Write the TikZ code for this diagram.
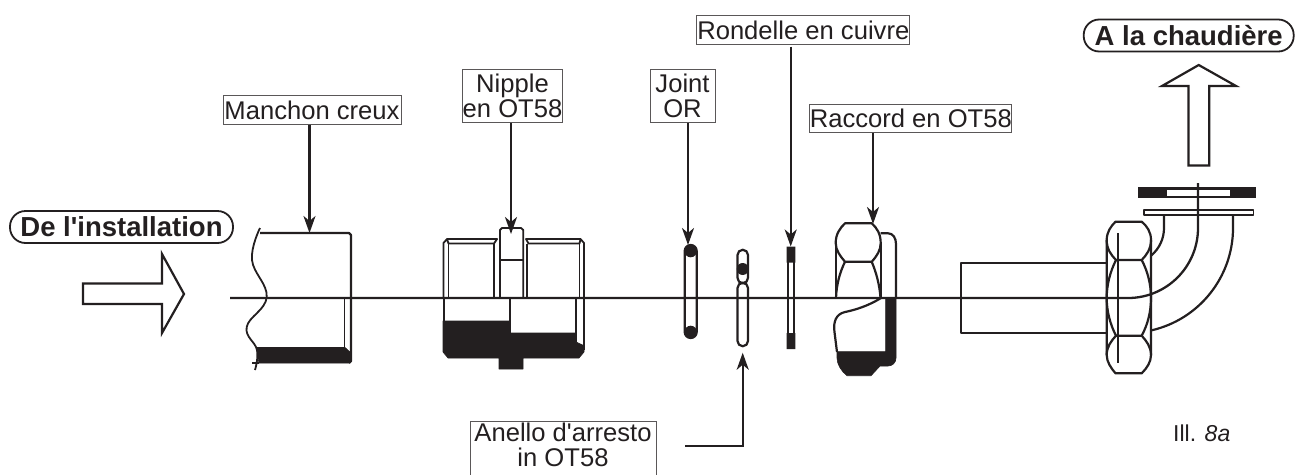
\documentclass[tikz,border=0pt]{standalone}
\usepackage{fontspec}
\newfontfamily\lab{Liberation Sans}
\usetikzlibrary{arrows.meta}
\definecolor{ink}{HTML}{231F20}
\tikzset{
  part/.style={draw=ink,line width=2.2pt,line join=round},
  thin part/.style={draw=ink,line width=1.8pt,line join=round},
  solid part/.style={fill=ink,draw=ink,line width=.6pt,line join=round},
  axis/.style={draw=ink,line width=2.3pt},
  lead/.style={draw=ink,line width=2.3pt,-{Stealth[length=17pt,width=12pt,inset=5pt]}},
  label box/.style={draw=ink!75,line width=1pt,fill=white,inner sep=0pt,align=center,text=ink,
    font=\lab\fontsize{25.6}{25}\selectfont},
  pill/.style={draw=ink,line width=1.8pt,rounded corners=15.5pt,inner sep=0pt,text=ink,
    font=\lab\fontsize{27.5}{28}\selectfont\bfseries},
  big arrow/.style={draw=ink,line width=2.2pt,line join=miter,fill=white}
}
\begin{document}
\begin{tikzpicture}[x=1pt,y=-1pt]
\useasboundingbox (0,0) rectangle (1295,474);
% flow arrows
\draw[big arrow] (83,283.5) -- (162,283.5) -- (162,254) -- (184,294) -- (162,333) -- (162,304) -- (83,304) -- cycle;
\draw[big arrow] (1188.5,165.5) -- (1188.5,86) -- (1162,86) -- (1198.7,65) -- (1236,86) -- (1209.3,86) -- (1209.3,165.5) -- cycle;
% pills
\node[pill,minimum width=223pt,minimum height=32pt] (from) at (121.5,227) {De l'installation};
\node[pill,minimum width=210pt,minimum height=32pt] (to) at (1188.7,35.5) {A la chaudière};
% manchon
\draw[part] (260,233) -- (349,233) -- (351,235) -- (351,361) -- (349,363);
\draw[thin part] plot[smooth,tension=.7] coordinates {(260,228) (252,260) (266.7,297) (246.7,327) (257,350) (255,370)};
\draw[solid part] (257,347.5) -- (345,347.5) -- (351,353) -- (351,361) -- (349,363) -- (259,363) -- (257.5,355) -- cycle;
\draw[thin part] (344.5,298) -- (344.5,347.5);
\draw[thin part] (252,363) -- (259,363);
% nipple
\draw[thin part] (443.5,298) -- (443.5,243) -- (447,239) -- (497,239) -- (494,243.5) -- (448.5,243.5) -- (447,239);
\draw[thin part] (448.5,243.5) -- (448.5,298);
\draw[thin part] (494,243.5) -- (494,298);
\draw[thin part] (500,298) -- (500,230) -- (502,228) -- (521,228) -- (523.3,230) -- (523.3,298);
\draw[thin part] (500,260) -- (523.3,260);
\draw[thin part] (584,298) -- (584,243) -- (580.5,239) -- (526,239) -- (528.5,243.5) -- (579.5,243.5) -- (580.5,239);
\draw[thin part] (527,243.5) -- (527,298);
\draw[thin part] (579.5,243.5) -- (579.5,298);
\draw[thin part] (444,298) -- (444,321);
\draw[thin part] (510,298) -- (510,322);
\draw[thin part] (576,298) -- (576,342);
\draw[thin part] (584,298) -- (584,350);
\draw[solid part] (443,321) -- (510.5,321) -- (510.5,333) -- (576,333) -- (576,342) -- (582.5,345) -- (584,345) -- (584,352) -- (579,358) -- (523,358) -- (523,369) -- (499,369) -- (499,358) -- (448,358) -- (443,352) -- cycle;
% joint OR
\draw[part] (684.7,251) -- (684.7,332) arc[start angle=180,end angle=0,radius=6] -- (696.7,251) arc[start angle=0,end angle=-180,radius=6];
\fill[ink] (690.7,251) circle[radius=6.3] (690.7,332) circle[radius=6.3];
% anello
\draw[part] (737.5,278) -- (737.5,255) arc[start angle=180,end angle=360,radius=5.25] -- (748,278);
\draw[part] (737.5,278) arc[start angle=180,end angle=0,radius=5.25];
\draw[part] (737.5,341) -- (737.5,288) arc[start angle=180,end angle=360,radius=5.25] -- (748,341) arc[start angle=0,end angle=180,radius=5.25];
\fill[ink] (742.7,269) circle[radius=6];
% rondelle
\draw[part] (787.7,262) -- (787.7,333) (794.3,262) -- (794.3,333);
\fill[ink] (786.7,246.7) rectangle (795.3,262.7) (786.7,333) rectangle (795.3,349);
% raccord
\draw[part] (845,223.3) -- (871.7,223.3) .. controls (877,228) and (880.7,234) .. (880.7,243) .. controls (880.7,250) and (877,256) .. (871.7,261.7) -- (845,261.7) .. controls (840,256) and (835.7,250) .. (835.7,243) .. controls (835.7,234) and (840,228) .. (845,223.3) -- cycle;
\draw[part] (835.7,243) -- (835.7,298) (880.7,243) -- (880.7,298);
\draw[part] (845,261.7) .. controls (840,272) and (836.5,284) .. (836,298);
\draw[part] (871.7,261.7) .. controls (876,272) and (879.5,284) .. (880.5,298);
\draw[part] (880.7,233.3) -- (888,233.3) .. controls (893,233.3) and (896,238) .. (896,244) -- (896,298);
\draw[part] (881,298) .. controls (868,306) and (855,310) .. (845,312) .. controls (836,314) and (833,322) .. (834.5,332) -- (837,352);
\draw[solid part] (837,351.7) -- (885.7,351.7) -- (885.7,298) -- (896,298) -- (896,358) .. controls (896,363) and (892,366) .. (888,366) -- (880,366) -- (871,375.7) -- (847,375.7) .. controls (841,371) and (837,364) .. (837,358) -- cycle;
% tube
\draw[part] (1106.7,262.7) -- (960.7,262.7) -- (960.7,333) -- (1106.7,333);
% nut
\draw[part] (1115.5,221.7) -- (1141.7,221.7) .. controls (1147,226) and (1151,232) .. (1151,240) -- (1151,355) .. controls (1151,362) and (1147,368) .. (1141.7,373.3) -- (1115.5,373.3) .. controls (1111,368) and (1106.7,362) .. (1106.7,355) -- (1106.7,240) .. controls (1106.7,232) and (1111,226) .. (1115.5,221.7) -- cycle;
\draw[part] (1106.7,240) .. controls (1106.7,249) and (1111,255) .. (1116,260) -- (1141.7,260) .. controls (1146.5,255) and (1151,249) .. (1151,240);
\draw[part] (1106.7,355) .. controls (1106.7,347) and (1111,341) .. (1116,335.7) -- (1141.7,335.7) .. controls (1146.5,341) and (1151,347) .. (1151,355);
\draw[part] (1116,260) .. controls (1110,272) and (1106.7,285) .. (1106.7,298) .. controls (1106.7,311) and (1110,324) .. (1116,335.7);
\draw[part] (1141.7,260) .. controls (1148,272) and (1151,285) .. (1151,298) .. controls (1151,311) and (1148,324) .. (1141.7,335.7);
\draw[part] (1117.7,233) -- (1117.7,362.7);
% elbow
\draw[part] (1164,215) -- (1164,228) arc[start angle=0,end angle=50,radius=36];
\draw[part] (1233,215) -- (1233,228) arc[start angle=0,end angle=77.4,radius=105];
% flange and washer
\draw[part,line width=1.6pt] (1144,209.8) rectangle (1253.6,215);
\fill[ink] (1138.3,187.3) rectangle (1256,198);
\fill[white] (1166.7,190) rectangle (1230,196);
% axis
\draw[axis] (230,298) -- (1128,298) arc[start angle=90,end angle=0,radius=70] -- (1198,183);
% labels
\node[label box,minimum width=178pt,minimum height=28.4pt] (manchon) at (312,110) {Manchon creux};
\node[label box,minimum width=100.4pt,minimum height=53.7pt] (nipple) at (512.5,95.9) {Nipple\\en OT58};
\node[label box,minimum width=65pt,minimum height=53.7pt] (joint) at (682.5,95.9) {Joint\\OR};
\node[label box,minimum width=213.3pt,minimum height=28.3pt] (rondelle) at (803.3,30) {Rondelle en cuivre};
\node[label box,minimum width=201.7pt,minimum height=28.3pt] (raccord) at (910.8,118.3) {Raccord en OT58};
% anello label (cut off at the lower edge)
\draw[draw=ink!75,line width=1pt] (470,476) -- (470,421) -- (656,421) -- (656,476);
\node[inner sep=0pt,align=center,text=ink,font=\lab\fontsize{25.6}{25}\selectfont,anchor=base] (anello) at (563,466.7) {Anello d'arresto\\in OT58};
% free ends of the leaders
\coordinate (tmanchon) at (309.5,233);
\coordinate (tnipple) at (511,234);
\coordinate (tjoint) at (688,245);
\coordinate (trondelle) at (790.7,246.5);
\coordinate (traccord) at (873,224);
\coordinate (tanello) at (742.7,352.7);
\coordinate (sanello) at (685,446);
\draw[lead] (manchon.south -| tmanchon) -- (tmanchon);
\draw[lead] (nipple.south -| tnipple) -- (tnipple);
\draw[lead] (joint.south -| tjoint) -- (tjoint);
\draw[lead] ([yshift=-2pt]rondelle.south -| trondelle) -- (trondelle);
\draw[lead] (raccord.south -| traccord) -- (traccord);
\draw[lead] (sanello) -| (tanello);
% caption
\node[inner sep=0pt,anchor=base west,text=ink,font=\lab\fontsize{23}{23}\selectfont] (ill) at (1173,441) {Ill. \textit{8a}};
\end{tikzpicture}
\end{document}
